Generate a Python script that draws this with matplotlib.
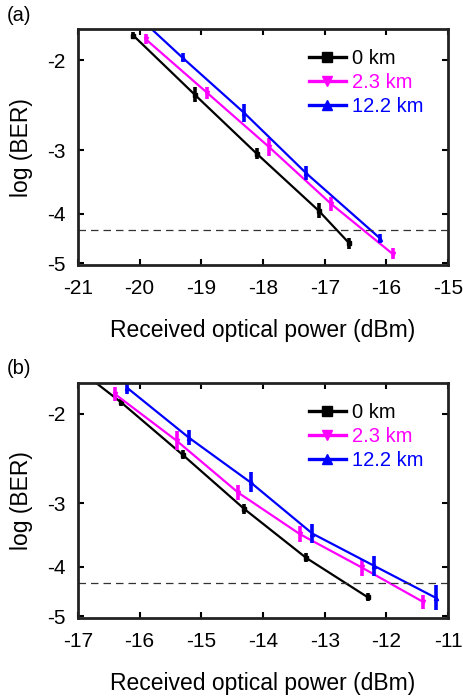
import numpy as np
import matplotlib
matplotlib.use('Agg')
import matplotlib.pyplot as plt
from matplotlib.lines import Line2D

plt.rcParams['font.family'] = ['Liberation Sans', 'DejaVu Sans']
plt.rcParams['axes.unicode_minus'] = False

labels = ['0 km', '2.3 km', '12.2 km']
colors = ['k', '#ff00ff', '#0000ff']
markers = ['s', 'v', '^']

# panel (a)
xa_0 = [-20.1, -19.1, -18.1, -17.1, -16.6]
ya_0 = [-1.79, -2.34, -3.05, -3.94, -4.57]
ea_0 = [0.03, 0.08, 0.08, 0.14, 0.12]
xa_23 = [-19.9, -18.9, -17.9, -16.9, -15.9]
ya_23 = [-1.82, -2.32, -2.96, -3.82, -4.79]
ea_23 = [0.04, 0.06, 0.12, 0.12, 0.12]
xa_122 = [-20.3, -19.3, -18.3, -17.3, -16.1]
ya_122 = [-1.53, -1.98, -2.54, -3.33, -4.47]
ea_122 = [0.03, 0.04, 0.10, 0.10, 0.10]

# panel (b)
xb_0 = [-17.3, -16.3, -15.3, -14.3, -13.3, -12.3]
yb_0 = [-1.53, -1.90, -2.41, -3.08, -3.84, -4.59]
eb_0 = [0.03, 0.03, 0.05, 0.07, 0.08, 0.08]
xb_23 = [-16.4, -15.4, -14.4, -13.4, -12.4, -11.4]
yb_23 = [-1.83, -2.26, -2.86, -3.45, -4.01, -4.69]
eb_23 = [0.06, 0.10, 0.10, 0.12, 0.15, 0.15]
xb_122 = [-16.2, -15.2, -14.2, -13.2, -12.2, -11.2]
yb_122 = [-1.78, -2.23, -2.73, -3.44, -3.98, -4.60]
eb_122 = [0.05, 0.08, 0.12, 0.15, 0.18, 0.25]

fec = -4.3

def fwd(y):
    y = np.asarray(y, dtype=float)
    return -np.log10(np.clip(-y, 1e-9, None))

def inv(f):
    return -10.0 ** (-np.asarray(f, dtype=float))

fig = plt.figure(figsize=(4.63, 6.96), dpi=100)
ax_a = fig.add_axes([0.168, 0.619, 0.800, 0.339])
ax_b = fig.add_axes([0.168, 0.112, 0.800, 0.338])

panels = [
    (ax_a, [(xa_0, ya_0, ea_0), (xa_23, ya_23, ea_23), (xa_122, ya_122, ea_122)],
     (-21, -15), '(a)'),
    (ax_b, [(xb_0, yb_0, eb_0), (xb_23, yb_23, eb_23), (xb_122, yb_122, eb_122)],
     (-17, -11), '(b)'),
]

for ax, series, xl, tag in panels:
    ax.set_yscale('function', functions=(fwd, inv))
    handles = []
    for (x, y, e), c, m, lab in zip(series, colors, markers, labels):
        ax.plot(x, y, color=c, lw=1.6)
        ax.errorbar(x, y, yerr=e, fmt='none', ecolor=c, elinewidth=2.6, capsize=0)
        ax.plot(x, y, ls='none', marker=m, ms=3, color=c)
        handles.append(Line2D([0], [0], color=c, lw=2.4, marker=m, ms=7, label=lab))
    ax.axhline(fec, color='#333333', lw=0.9, dashes=(6, 4))
    ax.set_xlim(*xl)
    ax.set_ylim(-5.04, -1.74)
    ax.set_xticks(np.arange(xl[0], xl[1] + 1, 1))
    ax.set_yticks([-2, -3, -4, -5])
    ax.set_yticklabels(['-2', '-3', '-4', '-5'])
    ax.minorticks_off()
    ax.tick_params(direction='in', length=4, width=1.5, top=True, right=True,
                   labelsize=15)
    ax.tick_params(axis='x', pad=10)
    ax.tick_params(axis='y', pad=9)
    for s in ax.spines.values():
        s.set_linewidth(2)
        s.set_color('#222222')
    ax.set_xlabel('Received optical power (dBm)', fontsize=16.5, labelpad=15)
    ax.set_ylabel('log (BER)', fontsize=16.5, labelpad=10)
    ax.legend(handles=handles, loc='upper left', bbox_to_anchor=(0.625, 0.915),
              frameon=False, fontsize=14.5, handlelength=1.8, handletextpad=0.3,
              labelspacing=0.25, numpoints=1, borderpad=0, borderaxespad=0,
              labelcolor='linecolor')
    fig.text(0.015, ax.get_position().y1 + 14 / 696, tag, fontsize=14.5, va='center')

fig.savefig('out.png', dpi=100)
